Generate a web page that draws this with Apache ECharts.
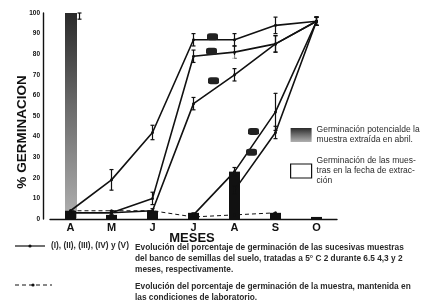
<!DOCTYPE html>
<html>
<head>
<meta charset="utf-8">
<script src="https://cdn.jsdelivr.net/npm/echarts@6/dist/echarts.min.js"></script>
<style>
  html, body { margin: 0; padding: 0; background: #fff; }
  #chart { width: 422px; height: 307px; }
</style>
</head>
<body>
<div id="chart"></div>
<script>
// meses de muestreo
var meses = ['A', 'M', 'J', 'J', 'A', 'S', 'O'];

// % germinacion de cada muestra (I..V), tratadas a 5 C
var lineaI   = [4, 19, 42, 87, 87, 94, 96];
var lineaII  = [3, 3, 10, 79, 81, 85, 96];
var lineaIII = [3, 3, 4, 56, 70, 85, 96];
var lineaIV  = [null, null, null, 2, 23, 52, 96];
var lineaV   = [null, null, null, null, 14, 42, 96];
// muestra mantenida en laboratorio
var laboratorio = [4, 4, 4, 1, 2, 3, null];

// barras
var potencial = [100, null, null, null, null, null, null];
var extraccion = [4, 2, 4, 3, 23, 3, 1];

// errores (+/-)
var errI   = [0, 5, 3.5, 3, 3, 4, 2];
var errII  = [0, 1, 3, 3, 3, 4, 2];
var errIII = [0, 1, 1, 3, 3, 4, 2];
var errIV  = [null, null, null, 1, 2, 9, 2];
var errV   = [null, null, null, null, 2, 3, 2];
var errPot = [3, null, null, null, null, null, null];

var nombres = ['I', 'II', 'III', 'IV', 'V'];

var chart = echarts.init(document.getElementById('chart'));
var negro = '#111';
var fuente = 'Liberation Sans';

function errorData(vals, errs) {
    var out = [];
    vals.forEach(function (v, i) {
        if (v != null && errs[i]) out.push([i, v, errs[i]]);
    });
    return out;
}

function errorSeries(vals, errs, shift) {
    shift = shift || 0;
    return {
        type: 'custom',
        silent: true,
        z: 4,
        data: errorData(vals, errs),
        renderItem: function (params, api) {
            var x = api.value(0), v = api.value(1), e = api.value(2);
            var hi = api.coord([x, Math.min(v + e, 100)]);
            var lo = api.coord([x, v - e]);
            hi[0] += shift; lo[0] += shift;
            var st = { stroke: negro, lineWidth: 1.2 };
            return {
                type: 'group',
                children: [
                    { type: 'line', shape: { x1: hi[0], y1: hi[1], x2: lo[0], y2: lo[1] }, style: st },
                    { type: 'line', shape: { x1: hi[0] - 2, y1: hi[1], x2: hi[0] + 2, y2: hi[1] }, style: st },
                    { type: 'line', shape: { x1: lo[0] - 2, y1: lo[1], x2: lo[0] + 2, y2: lo[1] }, style: st }
                ]
            };
        }
    };
}

// etiquetas (I)...(V) sobre cada curva
var etiquetaPos = [
    { idx: 3, off: [19, -3] },
    { idx: 3, off: [18, -5] },
    { idx: 3, off: [20, -23] },
    { idx: 4, off: [19, -40] },
    { idx: 4, off: [17, -38] }
];
var lineas = [lineaI, lineaII, lineaIII, lineaIV, lineaV];

function lineSeries(vals, k) {
    var p = etiquetaPos[k];
    return {
        name: 'curva' + nombres[k],
        type: 'line',
        data: vals,
        symbol: 'circle',
        symbolSize: 3,
        z: 3,
        lineStyle: { color: negro, width: 1.6 },
        itemStyle: { color: negro },
        markPoint: {
            symbol: 'roundRect',
            symbolSize: [11, 7],
            symbolOffset: p.off,
            itemStyle: { color: '#222' },
            label: { show: true, formatter: nombres[k], color: '#fff', fontSize: 5, fontWeight: 'bold', offset: p.off },
            data: [{ coord: [p.idx, vals[p.idx]] }]
        }
    };
}

var nomPot = 'Germinación potencialde la\nmuestra extraída en abril.';
var nomExt = 'Germinación de las mues-\ntras en la fecha de extrac-\nción';

var series = [
    {
        name: nomPot,
        type: 'bar',
        data: potencial,
        barWidth: 12,
        barGap: '-100%',
        z: 1,
        itemStyle: {
            color: new echarts.graphic.LinearGradient(0, 0, 0, 1, [
                { offset: 0, color: '#2a2a2a' },
                { offset: 0.45, color: '#6a6a6a' },
                { offset: 1, color: '#b0b0b0' }
            ])
        }
    },
    {
        name: nomExt,
        type: 'bar',
        data: extraccion,
        barWidth: 11,
        z: 2,
        itemStyle: { color: negro }
    },
    {
        name: 'laboratorio',
        type: 'line',
        data: laboratorio,
        symbol: 'circle',
        symbolSize: 3,
        z: 3,
        lineStyle: { color: negro, width: 1, type: [4, 3] },
        itemStyle: { color: negro }
    }
];
lineas.forEach(function (vals, k) { series.push(lineSeries(vals, k)); });
series.push(errorSeries(lineaI, errI));
series.push(errorSeries(lineaII, errII));
series.push(errorSeries(lineaIII, errIII));
series.push(errorSeries(lineaIV, errIV));
series.push(errorSeries(lineaV, errV));
series.push(errorSeries(potencial, errPot, 9));

var txt = { fontFamily: fuente, fontSize: 8.3, fill: '#2a2a2a', fontWeight: 'bold' };

var option = {
    backgroundColor: '#fff',
    animation: false,
    textStyle: { fontFamily: fuente },
    grid: { left: 50, right: 85, top: 13, bottom: 88 },
    legend: {
        orient: 'vertical',
        left: 285,
        top: 120,
        itemWidth: 21,
        itemHeight: 14,
        itemGap: 11,
        selectedMode: false,
        textStyle: { fontSize: 8.5, lineHeight: 10, color: '#2a2a2a', fontFamily: fuente },
        data: [
            { name: nomPot, icon: 'rect' },
            { name: nomExt, icon: 'rect', itemStyle: { color: '#fff', borderColor: negro, borderWidth: 1.2 } }
        ]
    },
    xAxis: {
        type: 'category',
        data: meses,
        axisLine: { lineStyle: { color: negro, width: 1.4 } },
        axisTick: { show: false },
        axisLabel: { fontSize: 11, fontWeight: 'bold', color: '#111', margin: 3 }
    },
    yAxis: {
        type: 'value',
        min: 0,
        max: 100,
        interval: 10,
        offset: 7,
        splitLine: { show: false },
        axisLine: { show: true, lineStyle: { color: negro, width: 1.4 } },
        axisTick: { show: false },
        axisLabel: { fontSize: 6.5, fontWeight: 'bold', color: '#111', margin: 3 }
    },
    graphic: [
        // titulos de los ejes
        { type: 'text', x: 22, y: 132, rotation: Math.PI / 2, style: {
            text: '% GERMINACION', fontFamily: fuente, fontSize: 13.5, fontWeight: 'bold', fill: '#111',
            align: 'center', verticalAlign: 'middle' } },
        { type: 'text', x: 192, y: 238, style: {
            text: 'MESES', fontFamily: fuente, fontSize: 13, fontWeight: 'bold', fill: '#111',
            align: 'center', verticalAlign: 'middle' } },
        // leyenda inferior
        { type: 'line', shape: { x1: 15, y1: 246, x2: 45, y2: 246 }, style: { stroke: negro, lineWidth: 1.2 } },
        { type: 'circle', shape: { cx: 30, cy: 246, r: 1.6 }, style: { fill: negro } },
        { type: 'text', left: 51, top: 242, style: Object.assign({ text: '(I), (II), (III), (IV) y (V)' }, txt) },
        { type: 'text', left: 135, top: 242, style: Object.assign({
            text: 'Evolución del porcentaje de germinación de las sucesivas muestras\ndel banco de semillas del suelo, tratadas a 5° C 2 durante 6.5 4,3 y 2\nmeses, respectivamente.',
            lineHeight: 11 }, txt) },
        { type: 'line', shape: { x1: 15, y1: 285, x2: 52, y2: 285 }, style: { stroke: negro, lineWidth: 1, lineDash: [4, 3] } },
        { type: 'circle', shape: { cx: 33, cy: 285, r: 1.6 }, style: { fill: negro } },
        { type: 'text', left: 135, top: 281, style: Object.assign({
            text: 'Evolución del porcentaje de germinación de la muestra, mantenida en\nlas condiciones de laboratorio.',
            lineHeight: 11 }, txt) }
    ],
    series: series
};
chart.setOption(option);
</script>
</body>
</html>
